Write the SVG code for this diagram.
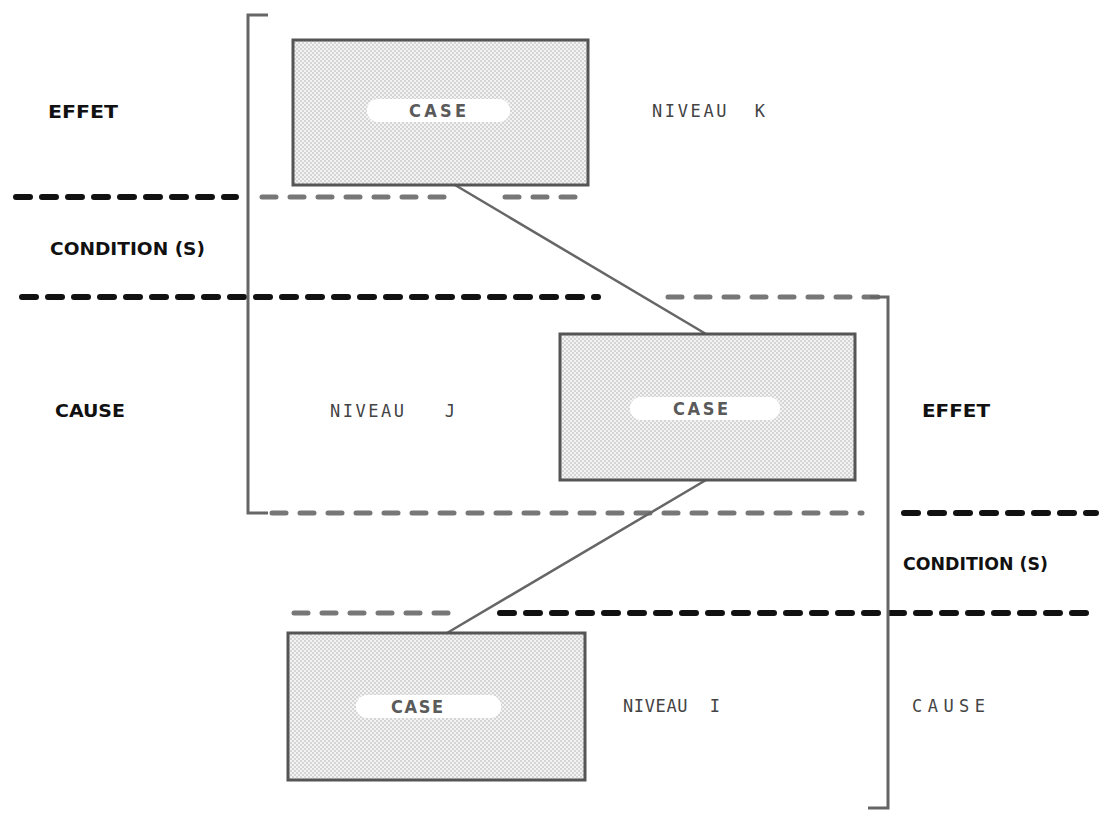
<svg xmlns="http://www.w3.org/2000/svg" width="1100" height="814" viewBox="0 0 1100 814">
<defs>
<pattern id="dots" width="4" height="4" patternUnits="userSpaceOnUse">
<rect width="4" height="4" fill="#f3f3f3"/>
<circle cx="1" cy="1" r="0.75" fill="#a8a8a8"/>
<circle cx="3" cy="3" r="0.75" fill="#a8a8a8"/>
</pattern>
</defs>
<style>
.box{fill:url(#dots);stroke:#555;stroke-width:3}
.blob{fill:#ffffff}
.case{font-family:"DejaVu Sans Condensed","DejaVu Sans",sans-serif;font-weight:bold;font-size:18px;fill:#5a5a5a}
.lbl{font-family:"DejaVu Sans Condensed","DejaVu Sans",sans-serif;font-weight:bold;font-size:17px;fill:#111}
.niv{font-family:"DejaVu Sans Mono",monospace;font-size:17px;fill:#444}
.dk{stroke:#111;stroke-width:6;stroke-dasharray:14 12;stroke-linecap:round;fill:none}
.gr{stroke:#777;stroke-width:5;stroke-dasharray:14 14;stroke-linecap:round;fill:none}
.br{stroke:#666;stroke-width:3;fill:none}
.conn{stroke:#666;stroke-width:2.5;fill:none}
</style>
<rect width="1100" height="814" fill="#ffffff"/>
<g id="levels">
<line class="dk" x1="16" y1="197" x2="236" y2="197"/>
<line class="gr" x1="262" y1="197" x2="452" y2="197"/>
<line class="gr" x1="505" y1="197" x2="586" y2="197"/>
<line class="dk" x1="22" y1="297" x2="598" y2="297"/>
<line class="gr" x1="668" y1="297" x2="884" y2="297"/>
<line class="gr" x1="272" y1="513" x2="862" y2="513"/>
<line class="dk" x1="904" y1="513" x2="1096" y2="513"/>
<line class="gr" x1="294" y1="613" x2="452" y2="613"/>
<line class="dk" x1="500" y1="613" x2="1096" y2="613"/>
</g>
<g id="brackets">
<path class="br" d="M268,15 H248 V513 H268"/>
<path class="br" d="M870,297 H888 V808 H868"/>
</g>
<g id="connectors">
<line class="conn" x1="455" y1="185" x2="706" y2="334"/>
<line class="conn" x1="706" y1="480" x2="447" y2="633"/>
</g>
<g id="node-k">
<rect class="box" x="293" y="40" width="295" height="145"/>
<rect class="blob" x="367" y="99" width="143" height="23" rx="11"/>
<text class="case" x="409" y="117" textLength="57" lengthAdjust="spacing">CASE</text>
</g>
<g id="node-j">
<rect class="box" x="560" y="334" width="295" height="146"/>
<rect class="blob" x="630" y="397" width="150" height="23" rx="11"/>
<text class="case" x="673" y="415" textLength="55" lengthAdjust="spacing">CASE</text>
</g>
<g id="node-i">
<rect class="box" x="288" y="633" width="297" height="147"/>
<rect class="blob" x="356" y="695" width="145" height="23" rx="11"/>
<text class="case" x="391" y="713" textLength="52" lengthAdjust="spacing">CASE</text>
</g>
<g id="labels">
<text class="lbl" x="48" y="118" textLength="70" lengthAdjust="spacingAndGlyphs">EFFET</text>
<text class="niv" x="652" y="117" textLength="113" lengthAdjust="spacing" xml:space="preserve">NIVEAU  K</text>
<text class="lbl" x="50" y="255" textLength="155" lengthAdjust="spacingAndGlyphs">CONDITION (S)</text>
<text class="lbl" x="55" y="417" textLength="70" lengthAdjust="spacingAndGlyphs">CAUSE</text>
<text class="niv" x="330" y="417" textLength="125" lengthAdjust="spacing" xml:space="preserve">NIVEAU   J</text>
<text class="lbl" x="922" y="417" textLength="68" lengthAdjust="spacingAndGlyphs">EFFET</text>
<text class="lbl" x="903" y="570" textLength="145" lengthAdjust="spacingAndGlyphs">CONDITION (S)</text>
<text class="niv" x="623" y="712" textLength="97" lengthAdjust="spacing" xml:space="preserve">NIVEAU  I</text>
<text class="niv" x="912" y="712" textLength="73" lengthAdjust="spacing">CAUSE</text>
</g>
</svg>
